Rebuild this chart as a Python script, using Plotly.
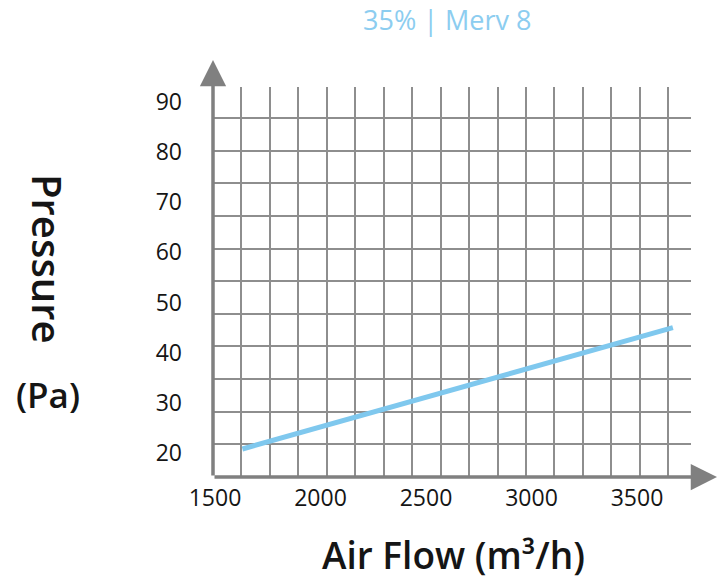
import plotly.graph_objects as go

# ---- data ----
airflow = [1630, 2820, 3670]          # m3/h
pressure = [20.8, 35.0, 45.0]         # Pa
x_ticks = [1500, 2000, 2500, 3000, 3500]
y_ticks = [20, 30, 40, 50, 60, 70, 80, 90]
chart_title = "35% | Merv 8"
x_title = "Air Flow (m³/h)"
y_title = "Pressure"
y_unit = "(Pa)"

W, H = 724, 579
L, R, T, B = 213, 7, 60, 102
PW, PH = W - L - R, H - T - B

LINE_BLUE = "#7fc8ee"
GRID = "#8e8e8e"
AXIS = "#808080"
FONT = "Open Sans"
TEXT = "#151515"

fig = go.Figure()

# grid subplot (decorative grid, independent of the value scale)
fig.add_trace(go.Scatter(x=[], y=[], xaxis="x", yaxis="y", showlegend=False, hoverinfo="skip"))
# data subplot
fig.add_trace(go.Scatter(x=airflow, y=pressure, xaxis="x2", yaxis="y2", mode="lines",
                         line=dict(color=LINE_BLUE, width=5), showlegend=False))

grid_axis = dict(showgrid=True, gridcolor=GRID, gridwidth=2, dtick=1, tick0=0,
                 showticklabels=False, zeroline=False, showline=False, ticks="", fixedrange=True)

fig.update_layout(
    width=W, height=H,
    margin=dict(l=L, r=R, t=T, b=B, pad=0),
    paper_bgcolor="white", plot_bgcolor="rgba(0,0,0,0)",
    font=dict(family=FONT, color=TEXT),
    xaxis=dict(domain=[0, (691 - L) / PW], range=[0, 16.8], anchor="y", **grid_axis),
    yaxis=dict(domain=[0, (477 - 87) / PH], range=[0, 11.95], anchor="x", **grid_axis),
    xaxis2=dict(domain=[0, 1], range=[1490.5, 3879.1], anchor="y2", tickvals=x_ticks,
                showgrid=False, zeroline=False, showline=False, ticks="",
                tickfont=dict(size=23, family=FONT, color=TEXT), ticklabelstandoff=5),
    yaxis2=dict(domain=[0, 1], range=[15.21, 98.38], anchor="x2", tickvals=y_ticks,
                showgrid=False, zeroline=False, showline=False, ticks="",
                tickfont=dict(size=23, family=FONT, color=TEXT), ticklabelstandoff=30),
)

arrow_common = dict(xref="paper", yref="paper", axref="pixel", ayref="pixel", text="",
                    showarrow=True, arrowhead=2, arrowwidth=3.5, arrowsize=1.5,
                    arrowcolor=AXIS, standoff=0)
annotations = [
    dict(x=1, y=0, ax=-PW, ay=0, **arrow_common),
    dict(x=0, y=1, ax=0, ay=PH, **arrow_common),
    dict(text=chart_title, x=(447 - L) / PW, y=(477 - 20) / PH, xref="paper", yref="paper",
         showarrow=False, xanchor="center", yanchor="middle",
         font=dict(size=27, family=FONT, color="#8ccdf0")),
    dict(text=x_title, x=(453 - L) / PW, y=(477 - 554) / PH, xref="paper", yref="paper",
         showarrow=False, xanchor="center", yanchor="middle",
         font=dict(size=37, family=FONT, color=TEXT, weight=600)),
    dict(text=y_title, x=(48 - L) / PW, y=(477 - 259) / PH, xref="paper", yref="paper",
         showarrow=False, xanchor="center", yanchor="middle", textangle=90,
         font=dict(size=40, family=FONT, color=TEXT, weight=600)),
    dict(text=y_unit, x=(48 - L) / PW, y=(477 - 394) / PH, xref="paper", yref="paper",
         showarrow=False, xanchor="center", yanchor="middle",
         font=dict(size=35, family=FONT, color=TEXT, weight=600)),
]
fig.update_layout(annotations=annotations)

fig.write_html("out.html", config={"displayModeBar": False},
               post_script="document.body.style.margin='0';document.body.style.overflow='hidden';")
